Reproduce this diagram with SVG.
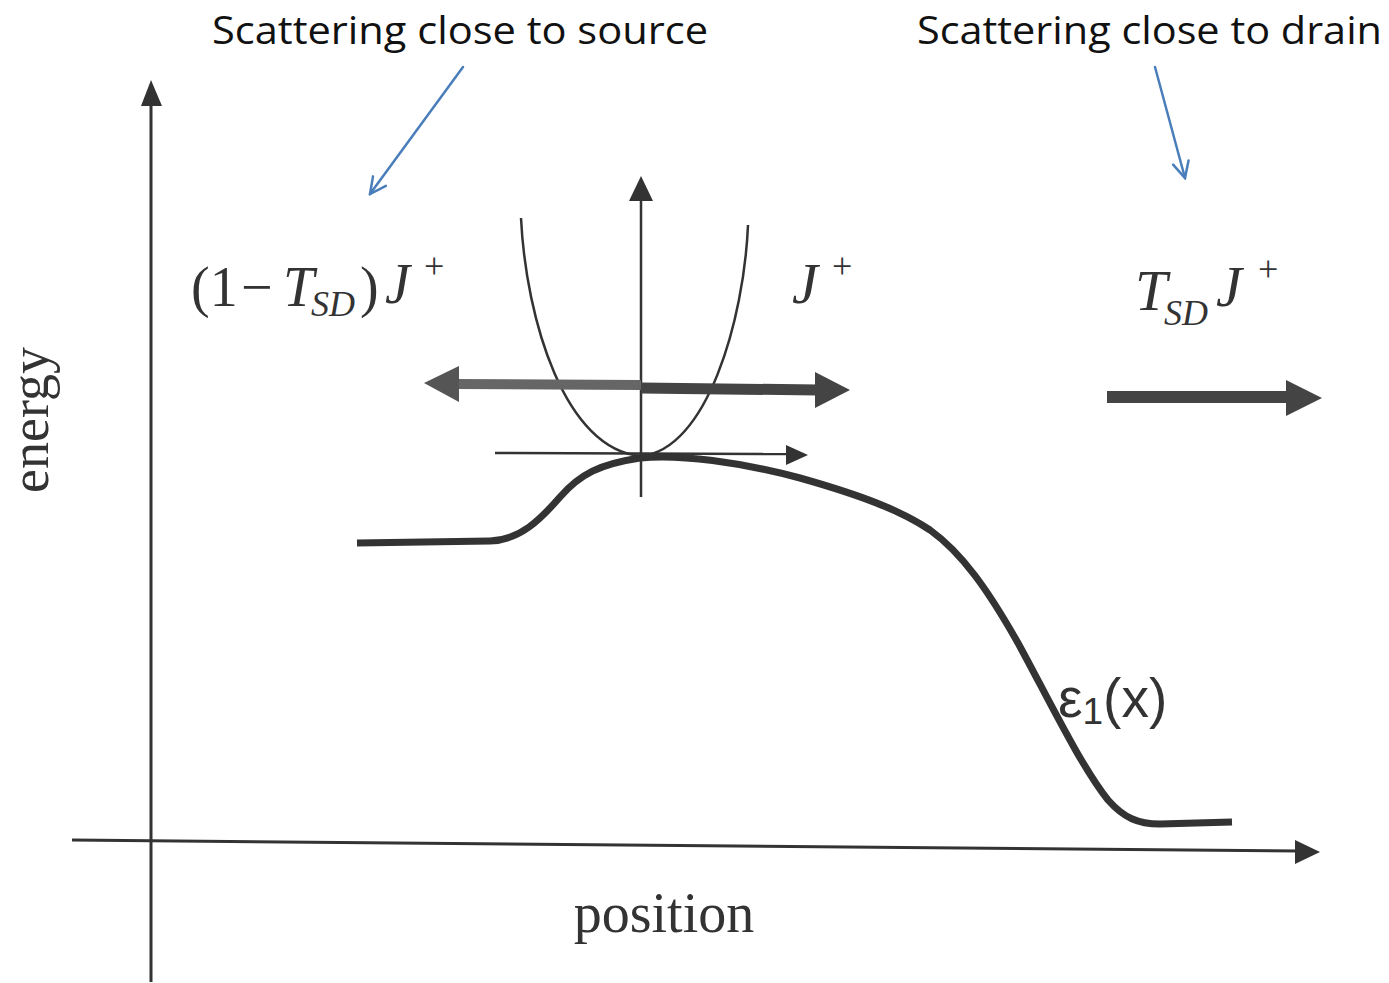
<svg xmlns="http://www.w3.org/2000/svg" width="1389" height="983" viewBox="0 0 1389 983">
<style>
.ax{stroke:#333;stroke-width:3;fill:none}
.thin{stroke:#333;stroke-width:2.5;fill:none}
.blue{stroke:#4a7ebb;stroke-width:2.5;fill:none;stroke-linecap:round}
.math{font-family:"Liberation Serif","Times New Roman",serif;fill:#333}
.it{font-style:italic}
.cap{font-family:"Open Sans","Liberation Sans",sans-serif;font-size:38px;fill:#111}
.sans{font-family:"Liberation Sans",Arial,sans-serif;fill:#333}
</style>
<defs>
<marker id="open" viewBox="0 0 20 20" refX="18" refY="10" markerWidth="20" markerHeight="20" markerUnits="userSpaceOnUse" orient="auto">
<path d="M2,2 L18,10 L2,18" fill="none" stroke="#4a7ebb" stroke-width="2.5" stroke-linecap="round"/>
</marker>
</defs>
<rect width="1389" height="983" fill="#fff"/>
<g id="axes">
<line class="ax" x1="151" y1="982" x2="151" y2="100"/>
<polygon points="151,80 141,106 162,106" fill="#333"/>
<line class="ax" x1="72" y1="840" x2="1300" y2="851"/>
<polygon points="1320,852 1295,840 1295,864" fill="#333"/>
<text class="math" font-size="54" transform="translate(48,420) rotate(-90)" text-anchor="middle">energy</text>
<text class="math" font-size="56" x="664" y="932" text-anchor="middle">position</text>
</g>
<g id="band">
<line class="thin" x1="641" y1="497" x2="641" y2="198"/>
<polygon points="641,176 629,201 653,201" fill="#333"/>
<line class="thin" x1="495" y1="453" x2="790" y2="454"/>
<polygon points="808,455 786,445 786,465" fill="#333"/>
<path class="thin" d="M521,218 C526,320 565,450 641,456 C707,450 744,320 748,225"/>
<path d="M357,543 L490,541 C520,540 540,520 560,497 C580,474 600,464 640,458 C680,454 740,462 800,478 C860,495 900,510 930,530 C962,553 988,590 1018,643 C1045,692 1080,765 1108,800 C1124,818 1138,824 1160,824 L1232,822" fill="none" stroke="#333" stroke-width="7"/>
<text class="sans" font-size="55" x="1058" y="717">ε<tspan font-size="37" dy="7">1</tspan><tspan dy="-7">(x)</tspan></text>
</g>
<g id="flux-mid">
<line x1="455" y1="384" x2="641" y2="385" stroke="#666" stroke-width="10"/>
<polygon points="424,383 459,366 459,402" fill="#555"/>
<line x1="641" y1="388" x2="818" y2="390" stroke="#444" stroke-width="11"/>
<polygon points="850,390 815,372 815,408" fill="#444"/>
<text class="math" font-size="58"><tspan class="it" x="792" y="303">J</tspan><tspan x="832" y="278" font-size="36">+</tspan></text>
</g>
<g id="flux-left">
<text class="math" font-size="56"><tspan x="191" y="306">(1</tspan><tspan x="241" y="306">−</tspan><tspan class="it" x="283" y="306">T</tspan><tspan class="it" x="311" y="316" font-size="36">SD</tspan><tspan x="360" y="306">)</tspan><tspan class="it" x="385" y="303">J</tspan><tspan x="424" y="278" font-size="36">+</tspan></text>
</g>
<g id="flux-right">
<line x1="1107" y1="397" x2="1290" y2="397" stroke="#444" stroke-width="12"/>
<polygon points="1322,398 1286,380 1286,416" fill="#444"/>
<text class="math" font-size="58"><tspan class="it" x="1135" y="310">T</tspan><tspan class="it" x="1164" y="325" font-size="36">SD</tspan><tspan class="it" x="1216" y="306">J</tspan><tspan x="1258" y="281" font-size="36">+</tspan></text>
</g>
<g id="note-source">
<text class="cap" x="212" y="44" textLength="496" lengthAdjust="spacingAndGlyphs">Scattering close to source</text>
</g>
<g id="note-drain">
<text class="cap" x="917" y="44" textLength="465" lengthAdjust="spacingAndGlyphs">Scattering close to drain</text>
</g>
<g id="connectors">
<line class="blue" x1="463" y1="67" x2="370" y2="194" marker-end="url(#open)"/>
<line class="blue" x1="1155" y1="67" x2="1185" y2="178" marker-end="url(#open)"/>
</g>
</svg>
